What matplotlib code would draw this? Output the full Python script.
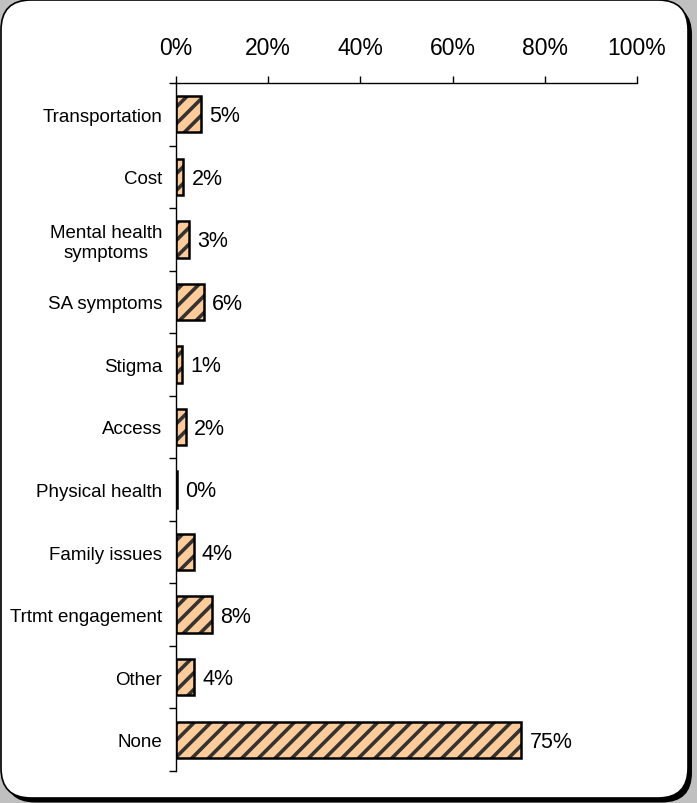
import matplotlib
matplotlib.use('Agg')
import matplotlib.pyplot as plt
from matplotlib.patches import FancyBboxPatch
import numpy as np

plt.rcParams['font.family'] = ['Liberation Sans', 'DejaVu Sans']
plt.rcParams['hatch.linewidth'] = 2.6

categories = ['Transportation', 'Cost', 'Mental health\nsymptoms', 'SA symptoms',
              'Stigma', 'Access', 'Physical health', 'Family issues',
              'Trtmt engagement', 'Other', 'None']
values = [5.4, 1.6, 2.8, 6.0, 1.3, 2.1, 0.2, 3.8, 7.8, 4.0, 74.9]
labels = ['5%', '2%', '3%', '6%', '1%', '2%', '0%', '4%', '8%', '4%', '75%']
xticks = [0, 20, 40, 60, 80, 100]

W, H = 697, 804
fig = plt.figure(figsize=(W / 100, H / 100), dpi=100, facecolor='#c0c0c0')

# rounded frame with dark shadow
shadow = FancyBboxPatch((5, 0.5), 687, 798, boxstyle='round,pad=0,rounding_size=30',
                        transform=None, facecolor='black', edgecolor='none', zorder=0)
frame = FancyBboxPatch((1, 5), 687, 798, boxstyle='round,pad=0,rounding_size=30',
                       transform=None, facecolor='white', edgecolor='black',
                       linewidth=1.2, zorder=1)
fig.patches.extend([shadow, frame])

ax = fig.add_axes([176 / W, 1 - 772 / H, (637 - 176) / W, (772 - 84) / H])
ax.set_facecolor('none')
ax.set_zorder(2)

y = np.arange(len(categories))
ax.barh(y, values, height=0.58, color='#ffcc99', edgecolor='#333333',
        hatch='//', linewidth=0)
ax.barh(y, values, height=0.58, color='none', edgecolor='black', linewidth=1.8)

for yi, v, lab in zip(y, values, labels):
    ax.annotate(lab, (v, yi), xytext=(6, -1), textcoords='offset points',
                va='center', ha='left', fontsize=15.5)

ax.set_xlim(0, 100)
ax.set_ylim(len(categories) - 0.5, -0.5)

ax.xaxis.tick_top()
ax.set_xticks(xticks)
ax.set_xticklabels(['%d%%' % t for t in xticks], fontsize=16.5)
ax.tick_params(axis='x', direction='out', length=5, width=1, pad=12)

ax.set_yticks(y)
ax.set_yticklabels(categories, fontsize=13.5)
for t in ax.get_yticklabels():
    t.set_multialignment('center')
ax.tick_params(axis='y', which='major', length=0, pad=10)
ax.set_yticks(np.arange(-0.5, len(categories)), minor=True)
ax.tick_params(axis='y', which='minor', length=5, width=1, direction='out')

for s in ['right', 'bottom']:
    ax.spines[s].set_visible(False)
ax.spines['top'].set_linewidth(1)
ax.spines['left'].set_linewidth(1)

fig.savefig('out.png', dpi=100, facecolor=fig.get_facecolor())
